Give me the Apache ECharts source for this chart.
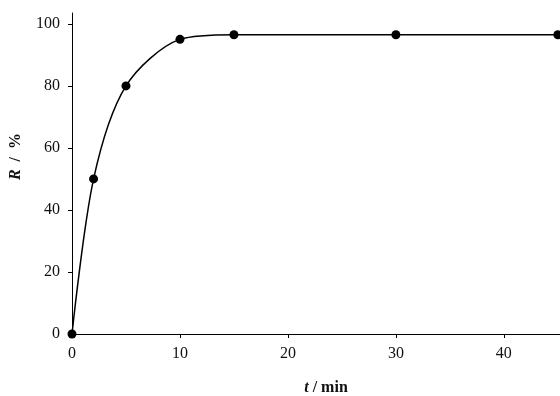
<!DOCTYPE html>
<html>
<head>
<meta charset="utf-8">
<script src="https://cdn.jsdelivr.net/npm/echarts@6/dist/echarts.min.js"></script>
<style>
  html, body { margin: 0; padding: 0; background: #fff; }
  #chart { width: 560px; height: 396px; }
</style>
</head>
<body>
<div id="chart"></div>
<script>
// time (min) and removal R (%)
const times = [0, 2, 5, 10, 15, 30, 45];
const removal = [0, 50, 80, 95, 96.5, 96.5, 96.5];
const xTicks = [0, 10, 20, 30, 40];
const yTicks = [0, 20, 40, 60, 80, 100];

const points = times.map((t, i) => [t, removal[i]]);
const font = 'Liberation Serif';

var myChart = echarts.init(document.getElementById('chart'));

myChart.setOption({
  animation: false,
  grid: {
    left: 72,
    right: 0,
    top: 13,
    bottom: 62,
    containLabel: false,
    outerBoundsMode: 'none'
  },
  xAxis: {
    type: 'value',
    min: 0,
    max: 45.2,
    splitLine: { show: false },
    axisLine: { show: true, lineStyle: { color: '#000', width: 1 } },
    axisTick: { show: true, length: 4, customValues: xTicks, lineStyle: { color: '#000' } },
    axisLabel: {
      customValues: xTicks,
      margin: 12,
      color: '#111',
      fontFamily: font,
      fontSize: 16
    },
    name: '{i|t}{b| / min}',
    nameLocation: 'middle',
    nameGap: 46,
    nameMoveOverlap: false,
    nameTextStyle: {
      padding: [0, 0, 0, 20],
      rich: {
        i: { fontFamily: font, fontSize: 16, fontStyle: 'italic', fontWeight: 'bold', color: '#111' },
        b: { fontFamily: font, fontSize: 16, fontWeight: 'bold', color: '#111' }
      }
    }
  },
  yAxis: {
    type: 'value',
    min: 0,
    max: 103.5,
    splitLine: { show: false },
    axisLine: { show: true, lineStyle: { color: '#000', width: 1 } },
    axisTick: { show: true, length: 4, customValues: yTicks, lineStyle: { color: '#000' } },
    axisLabel: {
      customValues: yTicks,
      margin: 12,
      color: '#111',
      fontFamily: font,
      fontSize: 16
    },
    name: '{i|R}{b|  /  %}',
    nameLocation: 'middle',
    nameGap: 48,
    nameMoveOverlap: false,
    nameTextStyle: {
      padding: [0, 0, 0, 34],
      rich: {
        i: { fontFamily: font, fontSize: 16, fontStyle: 'italic', fontWeight: 'bold', color: '#111' },
        b: { fontFamily: font, fontSize: 16, fontWeight: 'bold', color: '#111' }
      }
    }
  },
  series: [
    {
      type: 'line',
      data: points,
      smooth: 0.3,
      showSymbol: false,
      clip: false,
      lineStyle: { color: '#000', width: 1.5 }
    },
    {
      type: 'scatter',
      data: points,
      symbolSize: 9,
      clip: false,
      itemStyle: { color: '#000', opacity: 1 }
    }
  ]
});
</script>
</body>
</html>
